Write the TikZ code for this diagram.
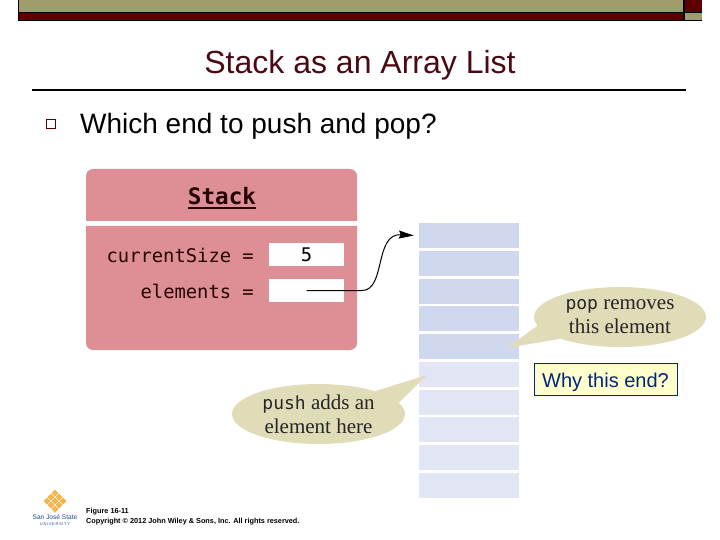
\documentclass[tikz,border=0pt]{standalone}
\usepackage{fontspec}
\setmainfont{Liberation Sans}
\newfontfamily\codefont{DejaVu Sans Mono}
\newfontfamily\notefont{Liberation Serif}
\usetikzlibrary{shapes.geometric,arrows.meta}
\definecolor{barolive}{HTML}{A09C6C}
\definecolor{barred}{HTML}{5E0000}
\definecolor{titlered}{HTML}{4A0A14}
\definecolor{panelpink}{HTML}{DD8F95}
\definecolor{cellfull}{HTML}{D0D8EF}
\definecolor{cellfree}{HTML}{E2E6F4}
\definecolor{notetan}{HTML}{E0DCB8}
\definecolor{whynavy}{HTML}{00267F}
\definecolor{whyfill}{HTML}{FFFFCC}
\definecolor{logosun}{HTML}{F2B64C}
\definecolor{logoblue}{HTML}{1F4E8C}
\tikzset{
  valbox/.style={fill=white,minimum width=75pt,minimum height=23pt,inner sep=0pt},
  codetext/.style={inner sep=0pt,text=black!85!red,font=\codefont\fontsize{18.8}{22}\selectfont},
  stackcell/.style={minimum width=100pt,minimum height=25pt,inner sep=0pt},
  notebubble/.style={ellipse,fill=notetan,inner sep=0pt,align=center,text=black!85,
    font=\notefont\fontsize{21}{24}\selectfont},
  whybox/.style={draw=whynavy,fill=whyfill,line width=1pt,text=whynavy,inner sep=0pt,
    minimum width=143pt,minimum height=32pt,font=\fontsize{20}{24}\selectfont},
  creditline/.style={anchor=west,inner sep=0pt,font=\bfseries\fontsize{7.3}{8}\selectfont}
}
\begin{document}
\begin{tikzpicture}[x=1pt,y=-1pt]
\useasboundingbox (0,0) rectangle (720,540);
\fill[black] (17.5,0) rectangle (702,21.5);
\fill[barolive] (19,0) rectangle (683,12);
\fill[barred] (19,13.5) rectangle (683,20);
\fill[barred] (684.5,0) rectangle (702,12);
\fill[barolive] (684.5,13.5) rectangle (702,20);
\node[inner sep=0pt,text=titlered,font=\fontsize{32}{38}\selectfont] (title) at (360,65) {Stack as an Array List};
\draw[line width=1.6pt] (32,90) -- (686,90);
\draw[barred,line width=1pt] (46.5,119.5) rectangle (55,129);
\node[anchor=west,inner sep=0pt,font=\fontsize{28}{32}\selectfont] (question) at (80,126) {Which end to push and pop?};
\fill[panelpink] (86,221) [rounded corners=7pt] -- (86,169) -- (357,169) -- (357,180) [sharp corners] -- (357,221) -- cycle;
\fill[panelpink] (86,226) -- (357,226) -- (357,240) [rounded corners=7pt] -- (357,350) -- (86,350) -- (86,240) [sharp corners] -- cycle;
\node[codetext,font=\codefont\bfseries\fontsize{22.6}{26}\selectfont] (stackname) at (222,196) {Stack};
\draw[black!85!red,line width=1.2pt] (188,208) -- (256,208);
\node[valbox] (sizeval) at (306.5,254.5) {\codefont\fontsize{18.8}{22}\selectfont 5};
\node[valbox] (elemval) at (306.5,290.5) {};
\node[codetext,anchor=east] (sizelabel) at (254,255) {currentSize =};
\node[codetext,anchor=east] (elemlabel) at (254,291) {elements =};
\foreach \i in {1,...,5}
  \node[stackcell,fill=cellfull] (cell\i) at (469,{235.8+27.7*(\i-1)}) {};
\foreach \i in {6,...,10}
  \node[stackcell,fill=cellfree] (cell\i) at (469,{235.8+27.7*(\i-1)}) {};
\draw[-{Stealth[length=15pt,width=8pt,inset=2pt]},shorten >=5pt,line width=1pt] (elemval.center) -- (362,290.5)
  .. controls (386,290.5) and (374,233) .. (cell1.west);
\node[notebubble,minimum width=172pt,minimum height=60pt] (popnote) at (620,317)
  {{\codefont\fontsize{18}{24}\selectfont pop} removes\\this element};
\coordinate (poptip) at (507,348);
\fill[notetan] (popnote.186) -- (poptip) -- (popnote.200) -- cycle;
\node[notebubble,minimum width=173pt,minimum height=60pt] (pushnote) at (318.5,414)
  {{\codefont\fontsize{18}{24}\selectfont push} adds an\\element here};
\coordinate (pushtip) at (427,375);
\fill[notetan] (pushnote.22) -- (pushtip) -- (pushnote.8) -- cycle;
\node[whybox,text depth=0pt] (why) at (605.5,379.5) {\raisebox{-1.5pt}{Why this end?}};
\foreach \dx/\dy in {0/-8,-4/-4,4/-4,-8/0,0/0,8/0,-4/4,4/4,0/8}
  \fill[logosun] (55+\dx,501+\dy-3.5) -- (55+\dx+3.5,501+\dy) -- (55+\dx,501+\dy+3.5) -- (55+\dx-3.5,501+\dy) -- cycle;
\node[inner sep=0pt,text=logoblue,font=\fontsize{6.6}{9}\selectfont] (logoname) at (55,517.5) {San José State};
\node[inner sep=0pt,text=logoblue,font=\fontsize{4}{5}\selectfont] (logouni) at (55,524) {U\,N\,I\,V\,E\,R\,S\,I\,T\,Y};
\node[creditline] (figno) at (86,512) {Figure 16-11};
\node[creditline] (credit) at (86,522) {Copyright © 2012 John Wiley \& Sons, Inc. All rights reserved.};
\end{tikzpicture}
\end{document}
